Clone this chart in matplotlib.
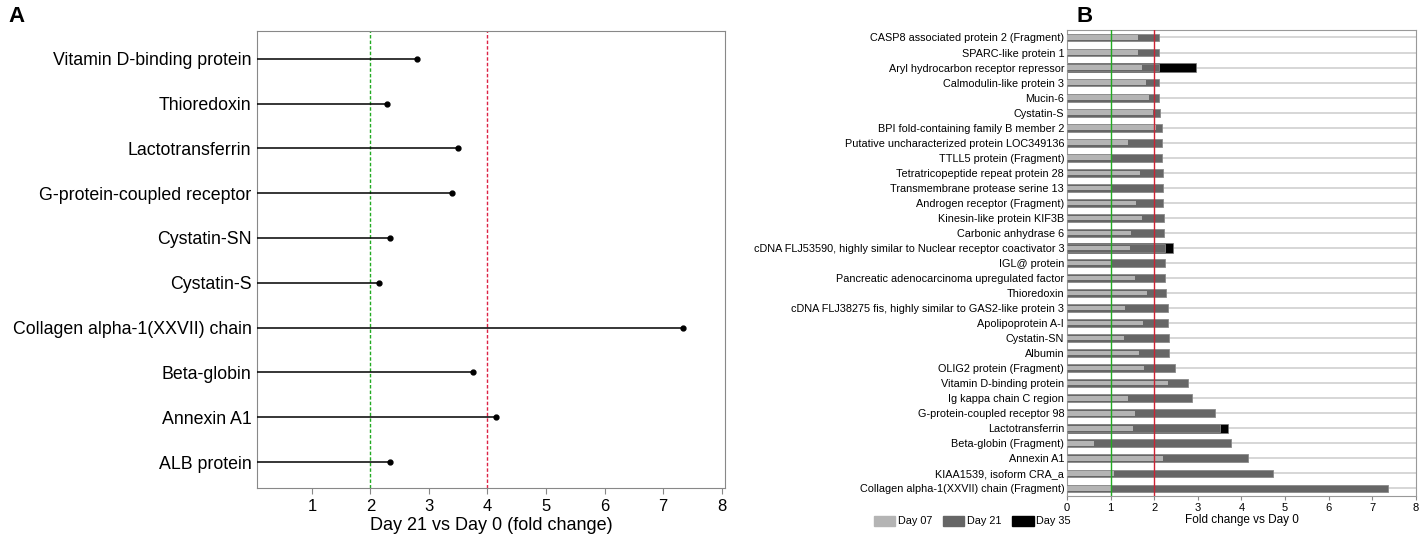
import matplotlib
matplotlib.use("Agg")
import matplotlib.pyplot as plt
import matplotlib.patches as mpatches
import numpy as np

plt.rcParams["font.family"] = ["Liberation Sans", "DejaVu Sans"]

# panel A: Day 21 vs Day 0 fold change
a_labels = ["Vitamin D-binding protein", "Thioredoxin", "Lactotransferrin",
            "G-protein-coupled receptor", "Cystatin-SN", "Cystatin-S",
            "Collagen alpha-1(XXVII) chain", "Beta-globin", "Annexin A1",
            "ALB protein"]
a_values = [2.79, 2.29, 3.50, 3.40, 2.34, 2.14, 7.35, 3.75, 4.15, 2.34]

# panel B: fold change vs Day 0 for three time points
b_labels = [
    "CASP8 associated protein 2 (Fragment)",
    "SPARC-like protein 1",
    "Aryl hydrocarbon receptor repressor",
    "Calmodulin-like protein 3",
    "Mucin-6",
    "Cystatin-S",
    "BPI fold-containing family B member 2",
    "Putative uncharacterized protein LOC349136",
    "TTLL5 protein (Fragment)",
    "Tetratricopeptide repeat protein 28",
    "Transmembrane protease serine 13",
    "Androgen receptor (Fragment)",
    "Kinesin-like protein KIF3B",
    "Carbonic anhydrase 6",
    "cDNA FLJ53590, highly similar to Nuclear receptor coactivator 3",
    "IGL@ protein",
    "Pancreatic adenocarcinoma upregulated factor",
    "Thioredoxin",
    "cDNA FLJ38275 fis, highly similar to GAS2-like protein 3",
    "Apolipoprotein A-I",
    "Cystatin-SN",
    "Albumin",
    "OLIG2 protein (Fragment)",
    "Vitamin D-binding protein",
    "Ig kappa chain C region",
    "G-protein-coupled receptor 98",
    "Lactotransferrin",
    "Beta-globin (Fragment)",
    "Annexin A1",
    "KIAA1539, isoform CRA_a",
    "Collagen alpha-1(XXVII) chain (Fragment)",
]
day07 = [1.63, 1.62, 1.72, 1.81, 1.89, 1.97, 2.03, 1.40, 1.04, 1.68, 1.04,
         1.59, 1.72, 1.46, 1.45, 1.04, 1.55, 1.84, 1.34, 1.74, 1.31, 1.66,
         1.76, 2.31, 1.40, 1.57, 1.52, 0.62, 2.21, 1.08, 1.03]
day21 = [2.10, 2.10, 2.11, 2.11, 2.12, 2.14, 2.18, 2.18, 2.18, 2.20, 2.21,
         2.21, 2.22, 2.22, 2.24, 2.24, 2.24, 2.28, 2.31, 2.31, 2.33, 2.33,
         2.47, 2.78, 2.87, 3.40, 3.51, 3.76, 4.15, 4.72, 7.36]
day35 = [0, 0, 2.95, 0, 0, 0, 0, 0, 0, 0, 0, 0, 0, 0, 2.42, 0, 0, 0, 0, 0,
         0, 0, 0, 0, 0, 0, 3.69, 0, 0, 0, 0]

fig = plt.figure(figsize=(14.23, 5.39), dpi=100)

# ---- panel A ----
ax1 = fig.add_axes([0.1806, 0.0946, 0.3289, 0.848])
ya = np.arange(len(a_labels))[::-1]
ax1.hlines(ya, 0, a_values, color="black", lw=1.1, zorder=3)
ax1.plot(a_values, ya, "o", color="black", ms=3.5, zorder=4)
ax1.axvline(2, color="#22aa22", ls=(0, (2.5, 1.5)), lw=1, zorder=2)
ax1.axvline(4, color="#dd2244", ls=(0, (2.5, 1.5)), lw=1, zorder=2)
ax1.set_xlim(0.06, 8.06)
ax1.set_ylim(-0.58, 9.62)
ax1.set_xticks(range(1, 9))
ax1.set_yticks(ya)
ax1.set_yticklabels(a_labels, fontsize=12.8)
ax1.tick_params(axis="y", length=0, pad=4)
ax1.tick_params(axis="x", labelsize=12, length=4, color="#888888", pad=4)
ax1.set_xlabel("Day 21 vs Day 0 (fold change)", fontsize=13, labelpad=2)
for s in ax1.spines.values():
    s.set_color("#888888")

# ---- panel B ----
ax2 = fig.add_axes([0.7498, 0.0798, 0.2453, 0.8646])
yb = np.arange(len(b_labels))[::-1]
for y in yb:
    ax2.axhline(y, color="#d0d0d0", lw=1.2, zorder=0)
ax2.barh(yb, day35, height=0.62, color="black", edgecolor="#777777",
         lw=0.5, zorder=2)
ax2.barh(yb, day21, height=0.52, color="#666666", edgecolor="#8a8a8a",
         lw=0.6, zorder=3)
ax2.barh(yb, day07, height=0.3, color="#b4b4b4", edgecolor="none", zorder=4)
ax2.axvline(1, color="#22aa22", lw=1, zorder=5)
ax2.axvline(2, color="#cc2233", lw=1, zorder=5)
ax2.set_xlim(0, 8)
ax2.set_ylim(-0.5, 30.5)
ax2.set_xticks(range(0, 9))
ax2.set_yticks(yb)
ax2.set_yticklabels(b_labels, fontsize=7.8)
ax2.tick_params(axis="y", length=0, pad=2)
ax2.tick_params(axis="x", labelsize=8, length=3, color="#888888", pad=2)
ax2.set_xlabel("Fold change vs Day 0", fontsize=8.5, labelpad=1)
for s in ax2.spines.values():
    s.set_color("#999999")

handles = [mpatches.Patch(color="#b4b4b4", label="Day 07"),
           mpatches.Patch(color="#666666", label="Day 21"),
           mpatches.Patch(color="black", label="Day 35")]
fig.legend(handles=handles, loc="center", bbox_to_anchor=(972 / 1423, 1 - 521 / 539),
           ncol=3, frameon=False, fontsize=7.8, handlelength=2.0,
           handleheight=1.1, handletextpad=0.2, columnspacing=1.0)

fig.text(8 / 1423, 1 - 17 / 539, "A", fontsize=16, fontweight="bold", va="center")
fig.text(1076 / 1423, 1 - 17 / 539, "B", fontsize=16, fontweight="bold", va="center")

fig.savefig("out.png", dpi=100)
